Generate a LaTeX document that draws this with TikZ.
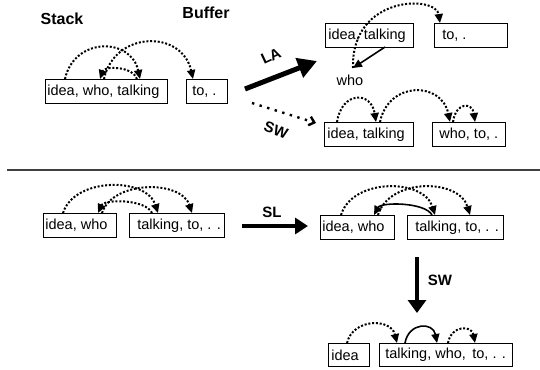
\documentclass[tikz,border=0pt]{standalone}
\usepackage{fontspec}
\setmainfont{Liberation Sans}
\usetikzlibrary{arrows.meta,calc}
\newcommand{\hop}[4]{\draw[#1] (#2) .. controls ($(#2)!0.12!(#3)+(0,-#4)$) and ($(#3)!0.12!(#2)+(0,-#4)$) .. (#3);}
\newcommand{\bt}[2]{\makebox[#1][l]{#2}}
\tikzset{
  box/.style={draw, line width=0.7pt, anchor=north west, minimum height=24pt, inner ysep=0pt, font=\fontsize{14.5}{16}\selectfont},
  lbl/.style={font=\fontsize{16}{18}\selectfont\bfseries},
  tlbl/.style={font=\fontsize{15}{17}\selectfont\bfseries},
  dots/.style={line width=2pt, dash pattern=on 2pt off 1.8pt, -{Triangle[length=9pt,width=8pt]}},
  solidarc/.style={line width=1.6pt, -{Triangle[length=9pt,width=8pt]}},
}
\begin{document}
\begin{tikzpicture}[x=1pt,y=-1pt]
\useasboundingbox (0,0) rectangle (540,369);
% labels
\node[lbl] (stack) at (62,19) {Stack};
\node[lbl] (buffer) at (206,13) {Buffer};
% top-left
\node[box, inner xsep=2pt] (b1) at (45,79) {\bt{118pt}{idea, who, talking}};
\node[box, inner xsep=6pt] (b2) at (186,79) {\bt{29pt}{to, .}};
\coordinate (tl-idea) at (65,79);
\coordinate (tl-talk) at (140,79);
\coordinate (tl-talk2) at (137,79);
\coordinate (tl-who) at (100,79);
\coordinate (tl-who2) at (104,79);
\coordinate (tl-to) at (193,79);
\hop{dots}{tl-idea}{tl-talk}{42}
\hop{dots}{tl-talk2}{tl-who}{13}
\hop{dots}{tl-who2}{tl-to}{49}
% transitions LA / SW
\coordinate (la-s) at (245,89);
\coordinate (la-e) at (317,61);
\draw[line width=5pt, -{Triangle[length=19pt,width=20pt]}] (la-s) -- (la-e);
\node[tlbl, rotate=25] (la) at (271,56) {LA};
\coordinate (sw-s) at (252,103);
\coordinate (sw-e) at (316,123);
\draw[line width=2.4pt, dash pattern=on 2.4pt off 5.5pt, -{Straight Barb[length=5pt,width=9pt]}] (sw-s) -- (sw-e);
\node[tlbl, rotate=-20] (sw1) at (276,130) {SW};
% top-right upper
\node[box, inner xsep=3pt] (b3) at (325,23) {\bt{82pt}{idea, talking}};
\node[box, inner xsep=8pt] (b4) at (434,23) {\bt{57pt}{to, .}};
\node[font=\fontsize{14.5}{16}\selectfont] (who) at (350,80) {who};
\coordinate (tr-talk) at (385,47);
\coordinate (tr-who) at (353,68);
\coordinate (tr-to) at (440,23);
\draw[solidarc] (tr-talk) -- (tr-who);
\draw[dots] (tr-who) .. controls (351,-5) and (436,-5) .. (tr-to);
% top-right lower
\node[box, inner xsep=3pt] (b5) at (324,122) {\bt{83pt}{idea, talking}};
\node[box, inner xsep=7pt] (b6) at (432,122) {\bt{59pt}{who, to, .}};
\coordinate (trl-idea) at (337,122);
\coordinate (trl-talk) at (376,122);
\coordinate (trl-talk2) at (380,122);
\coordinate (trl-who) at (450,122);
\coordinate (trl-who2) at (453,122);
\coordinate (trl-to) at (475,122);
\hop{dots}{trl-idea}{trl-talk}{31}
\hop{dots}{trl-talk2}{trl-who}{41}
\hop{dots}{trl-who2}{trl-to}{20}
% separator
\coordinate (sep-l) at (7,170);
\coordinate (sep-r) at (540,170);
\draw[line width=1.1pt, black!75] (sep-l) -- (sep-r);
% bottom-left
\node[box, inner xsep=2pt] (b7) at (43,213) {\bt{69pt}{idea, who}};
\node[box, inner xsep=8pt] (b8) at (129,213) {\bt{79pt}{talking, to, . .}};
\coordinate (bl-idea) at (63,213);
\coordinate (bl-talk) at (158,213);
\coordinate (bl-talk2) at (152,213);
\coordinate (bl-who) at (98,213);
\coordinate (bl-who2) at (102,213);
\coordinate (bl-to) at (192,213);
\hop{dots}{bl-idea}{bl-talk}{36}
\hop{dots}{bl-talk2}{bl-who}{14}
\hop{dots}{bl-who2}{bl-to}{33}
% SL
\coordinate (sl-s) at (242,226);
\coordinate (sl-e) at (308,226);
\draw[line width=4pt, -{Triangle[length=13pt,width=16pt]}] (sl-s) -- (sl-e);
\node[tlbl] (sl) at (272,212) {SL};
% bottom-middle
\node[box, inner xsep=2pt] (b9) at (320,215) {\bt{70pt}{idea, who}};
\node[box, inner xsep=8pt] (b10) at (407,215) {\bt{80pt}{talking, to, . .}};
\coordinate (bm-idea) at (341,215);
\coordinate (bm-talk) at (435,215);
\coordinate (bm-talk2) at (432,215);
\coordinate (bm-who) at (374,215);
\coordinate (bm-who2) at (378,215);
\coordinate (bm-to) at (470,215);
\hop{dots}{bm-idea}{bm-talk}{37}
\hop{solidarc}{bm-talk2}{bm-who}{13}
\hop{dots}{bm-who2}{bm-to}{37}
% SW vertical
\coordinate (sw2-s) at (417,257);
\coordinate (sw2-e) at (417,313);
\draw[line width=3.2pt, -{Triangle[length=13pt,width=18pt]}] (sw2-s) -- (sw2-e);
\node[tlbl] (sw2) at (440,280) {SW};
% bottom
\node[box, inner xsep=3pt, minimum height=23pt] (b11) at (328,343) {\bt{35pt}{idea}};
\node[box, inner xsep=6pt, minimum height=23pt] (b12) at (379,343) {\bt{121pt}{talking, who,\, to, . .}};
\coordinate (bb-idea) at (347,343);
\coordinate (bb-talk) at (397,343);
\coordinate (bb-talk2) at (405,343);
\coordinate (bb-who) at (437,343);
\coordinate (bb-who2) at (448,343);
\coordinate (bb-to) at (475,343);
\hop{dots}{bb-idea}{bb-talk}{25}
\hop{solidarc}{bb-talk2}{bb-who}{21}
\hop{dots}{bb-who2}{bb-to}{18}
\end{tikzpicture}
\end{document}
